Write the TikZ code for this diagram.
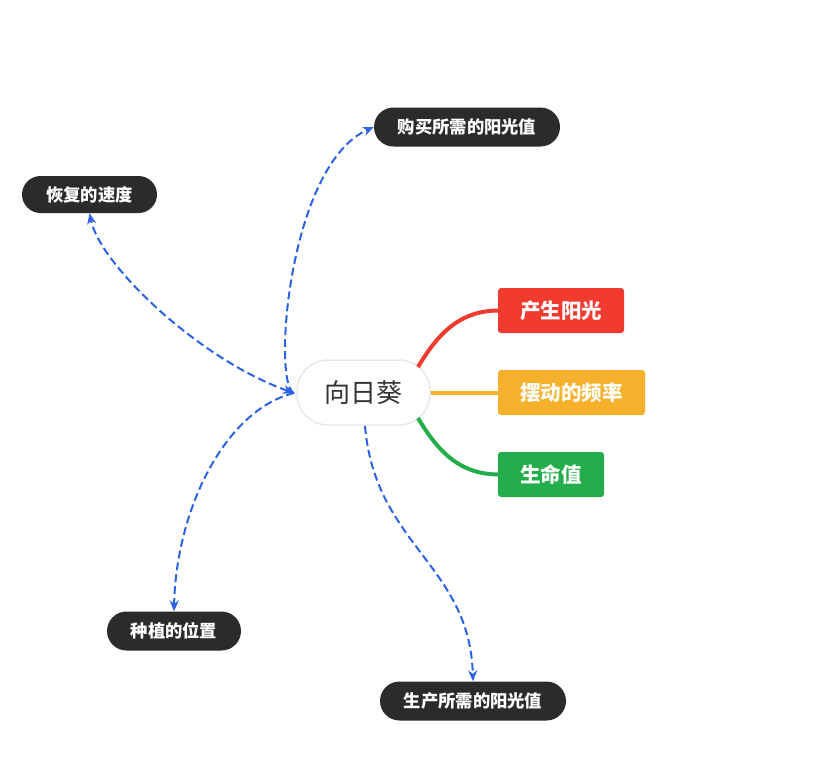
\documentclass[tikz,border=0pt]{standalone}
\usepackage{fontspec}
\newfontfamily\cjk{Noto Sans CJK SC}
\usetikzlibrary{arrows.meta}
\definecolor{darkpill}{HTML}{2B2B2B}
\definecolor{cred}{HTML}{F03B2E}
\definecolor{corange}{HTML}{F5B12B}
\definecolor{cgreen}{HTML}{23AE4B}
\definecolor{cblue}{HTML}{2B62E6}
\definecolor{cborder}{HTML}{E8E8E8}
\definecolor{ctext}{HTML}{333333}
\begin{document}
\begin{tikzpicture}[x=1pt,y=-1pt,
  pill/.style={fill=darkpill, text=white, rounded corners=19.5pt, minimum height=39pt, inner sep=0pt,
    font=\cjk\bfseries\fontsize{17.3}{17.3}\selectfont},
  colbox/.style={fill=#1, text=white, rounded corners=3pt, minimum height=45pt, inner sep=0pt,
    font=\cjk\bfseries\fontsize{20.5}{20.5}\selectfont},
  centerbox/.style={fill=white, draw=cborder, line width=1.5pt, rounded corners=31pt, minimum width=133pt,
    minimum height=65pt, inner sep=0pt, text=ctext, font=\cjk\fontsize{26}{26}\selectfont},
  dasharrow/.style={draw=cblue, line width=2pt, dash pattern=on 8pt off 4pt,
    -{Stealth[length=11pt,width=9pt]}},
  branch/.style={draw=#1, line width=4pt}
]
\useasboundingbox (0,0) rectangle (830,761);

\node[centerbox] (cen) at (363.5,392.5) {向日葵};
\node[pill, minimum width=186pt] (buy) at (467,127) {购买所需的阳光值};
\node[pill, minimum width=135pt, minimum height=37pt, rounded corners=18.5pt] (rec) at (89.5,194.5) {恢复的速度};
\node[pill, minimum width=134pt] (plant) at (174,631) {种植的位置};
\node[pill, minimum width=186pt] (prod) at (473,701) {生产所需的阳光值};
\node[colbox=cred, minimum width=126pt] (sun) at (561,310.5) {产生阳光};
\node[colbox=corange, minimum width=147pt] (swing) at (571.5,392.5) {摆动的频率};
\node[colbox=cgreen, minimum width=106pt] (life) at (551,474.5) {生命值};

\coordinate (J) at (294,393);

% coloured branches
\draw[branch=cred] (418,367) .. controls (440,330) and (462,311) .. (sun.west);
\draw[branch=corange] (cen.east) -- (swing.west);
\draw[branch=cgreen] (418,418) .. controls (440,455) and (462,474) .. (life.west);

% dashed connectors
\draw[dasharrow] (J) .. controls (272,385) and (288,165) .. (buy.west);
\draw[dasharrow, {Stealth[length=11pt,width=9pt]}-{Stealth[length=11pt,width=9pt]}] (J) .. controls (200,360) and (100,265) .. (rec.south);
\draw[dasharrow] (J) .. controls (225,410) and (176,510) .. (plant.north);
\draw[dasharrow] (365,426) .. controls (375,545) and (470,565) .. (prod.north);
\end{tikzpicture}
\end{document}
